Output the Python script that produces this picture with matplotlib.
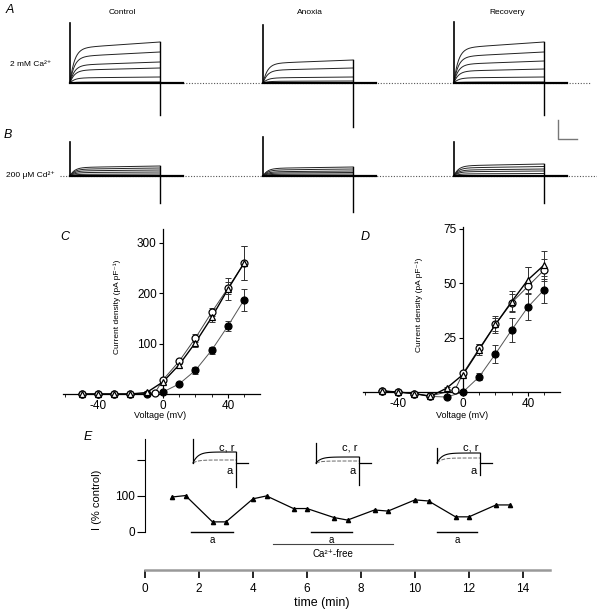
import numpy as np
import matplotlib
matplotlib.use("Agg")
import matplotlib.pyplot as plt
from matplotlib.ticker import MultipleLocator, FixedLocator

plt.rcParams["font.family"] = ["Liberation Sans", "DejaVu Sans"]

W, H = 600, 611

# ---- panel A / B current traces (nA, ms) ----
conditions = ["Control", "Anoxia", "Recovery"]
pulse_start = [0, 429, 853]
pulse_len = 200
tail_len = 51
A_amps = [[4.1, 3.1, 2.1, 1.5, 0.6, 0.1],
          [2.3, 1.5, 0.6, 0.2, 0.05, 0.0],
          [4.1, 3.1, 2.2, 1.4, 0.6, 0.1]]
A_on_spike = [6.0, 5.8, 6.1]
A_off_spike = [-3.2, -4.4, -3.2]
B_amps = [[1.0, 0.8, 0.6, 0.4, 0.2, 0.05],
          [0.9, 0.7, 0.5, 0.35, 0.2, 0.05],
          [1.2, 0.95, 0.7, 0.5, 0.25, 0.05]]
B_on_spike = [3.4, 3.9, 3.4]
B_off_spike = [-2.7, -3.6, -2.7]

# ---- panel C / D I-V data ----
voltage = [-50, -40, -30, -20, -10, 0, 10, 20, 30, 40, 50]
voltage_open = [-50, -40, -30, -20, -5, 0, 10, 20, 30, 40, 50]
C_tri = [0, 0, 0, 0, 3, 24, 58, 102, 152, 208, 260]
C_open = [0, 0, 0, 0, 2, 28, 65, 111, 162, 210, 260]
C_fill = [0, 0, 0, 0, 0, 4, 20, 47, 87, 135, 187]
C_tri_err = [0, 0, 0, 0, 2, 4, 6, 9, 10, 22, 34]
C_open_err = [0, 0, 0, 0, 2, 4, 5, 7, 8, 12, 34]
C_fill_err = [0, 0, 0, 0, 0, 1, 4, 7, 7, 10, 22]
D_tri = [0.5, 0, -0.7, -2, 1.8, 8, 19.5, 31, 41.5, 51.5, 58.3]
D_open = [0.5, 0, -0.7, -1.8, 0.9, 8.5, 20, 31, 41, 48.5, 56]
D_fill = [0.5, 0, -0.7, -2, -2.3, 0, 7, 17.5, 28.5, 39, 47]
D_tri_err = [0, 0, 0, 0, 0.5, 1, 2.5, 4, 5, 6, 6.5]
D_open_err = [0, 0, 0, 0, 0.5, 1, 2, 3, 4, 9, 5]
D_fill_err = [0, 0, 0, 0, 0, 0, 1.5, 4, 5.5, 6, 6]

# ---- panel E time course ----
time_min = [1.0, 1.5, 2.5, 3.0, 4.0, 4.5, 5.5, 6.0, 7.0, 7.5, 8.5, 9.0,
            10.0, 10.5, 11.5, 12.0, 13.0, 13.5]
I_pct = [97, 101, 28, 28, 92, 100, 65, 65, 40, 33, 61, 58,
         89, 86, 42, 42, 75, 75]
anoxia_bars = [(1.7, 3.27), (6.15, 7.67), (10.8, 12.3)]
ca_free_bar = (4.75, 9.2)
inset_start_px = [193, 316, 437]
inset_spike = [24, 20, 15]
inset_cr = [11, 6, 10]
inset_a = [3, 2, 5]
inset_tail = [-24, -22, -12]

fig = plt.figure(figsize=(W / 100, H / 100), dpi=100)


def box(x0, y0, x1, y1):
    return fig.add_axes([x0 / W, 1 - y1 / H, (x1 - x0) / W, (y1 - y0) / H])


def ftext(x, y, s, **kw):
    fig.text(x / W, 1 - y / H, s, **kw)


def draw_traces(ax, amps, on_spike, off_spike, dot_from, dot_to):
    ax.plot([dot_from, dot_to], [0, 0], ls=(0, (1, 1.5)), color="#555555", lw=0.8)
    t = np.linspace(0, pulse_len, 300)
    for k, t0 in enumerate(pulse_start):
        for a in amps[k]:
            y = a * (1 - np.exp(-t / 10.0)) * (0.85 + 0.15 * t / pulse_len)
            ax.plot(t0 + t, y, color="#222222", lw=0.7)
        ax.plot([t0, t0 + pulse_len + tail_len], [0, 0], color="black", lw=1.6)
        ax.plot([t0, t0], [0, on_spike[k]], color="black", lw=1.2)
        ax.plot([t0 + pulse_len, t0 + pulse_len], [amps[k][0], off_spike[k]],
                color="black", lw=1.0)
    ax.set_xlim(-33.3, 1171)
    ax.axis("off")


axA = box(55, 15, 597, 145)
draw_traces(axA, A_amps, A_on_spike, A_off_spike, 250, 1155)
axA.set_ylim(-6.2, 6.8)
# scale bar
axA.plot([1084, 1084, 1126], [-3.7, -5.6, -5.6], color="#777777", lw=1.0)

axB = box(55, 130, 597, 215)
draw_traces(axB, B_amps, B_on_spike, B_off_spike, -22, 1171)
axB.set_ylim(-3.9, 4.6)

ftext(10, 10, "A", fontsize=9, style="italic", ha="center", va="center")
ftext(8, 135, "B", fontsize=9, style="italic", ha="center", va="center")
for name, xp in zip(conditions, [122, 310, 507]):
    ftext(xp, 13, name, fontsize=6, ha="center", va="center")
ftext(31, 64, "2 mM Ca²⁺", fontsize=6, ha="center", va="center")
ftext(30, 175, "200 μM Cd²⁺", fontsize=6, ha="center", va="center")


def iv_axes(ax, ymax, ymin, yticks, series):
    for xs, ys, err, mk, fc, lc, lw in series:
        ax.errorbar(xs, ys, yerr=err, fmt="none", ecolor="#333333", elinewidth=0.7,
                    capsize=2.5, capthick=0.7, clip_on=False)
        ax.plot(xs, ys, color=lc, lw=lw, clip_on=False, zorder=2)
        ax.plot(xs, ys, ls="none", marker=mk, ms=5, mfc=fc, mec="black", mew=0.9,
                clip_on=False, zorder=3)
    ax.set_xlim(-61.5, 59.7)
    ax.set_ylim(ymin, ymax)
    ax.spines["left"].set_position(("data", 0))
    ax.spines["bottom"].set_position(("data", 0))
    ax.spines["left"].set_bounds(0, ymax)
    ax.spines["top"].set_visible(False)
    ax.spines["right"].set_visible(False)
    for s in ("left", "bottom"):
        ax.spines[s].set_linewidth(0.9)
    ax.patch.set_visible(False)
    ax.set_xticks([-40, 0, 40])
    ax.set_xticklabels(["-40", "0", "40"])
    ax.xaxis.set_minor_locator(MultipleLocator(10))
    ax.set_yticks(yticks)
    ax.tick_params(labelsize=8.5, length=3, width=0.8, pad=1.5)
    ax.tick_params(which="minor", length=2, width=0.6)


axC = box(63, 229, 260, 399)
iv_axes(axC, 327, -9.9, [100, 200, 300], [
    (voltage, C_fill, C_fill_err, "o", "black", "#555555", 0.7),
    (voltage_open, C_open, C_open_err, "o", "white", "#444444", 0.7),
    (voltage, C_tri, C_tri_err, "^", "white", "black", 1.0),
])
axD = box(363, 227, 560, 399)
iv_axes(axD, 75.7, -3.2, [25, 50, 75], [
    (voltage, D_fill, D_fill_err, "o", "black", "#555555", 0.7),
    (voltage_open, D_open, D_open_err, "o", "white", "#444444", 0.7),
    (voltage, D_tri, D_tri_err, "^", "white", "black", 1.0),
])

ftext(65, 237, "C", fontsize=9, style="italic", ha="center", va="center")
ftext(365, 237, "D", fontsize=9, style="italic", ha="center", va="center")
ftext(117, 307, "Current density (pA pF⁻¹)", fontsize=6, rotation=90,
      ha="center", va="center")
ftext(419, 305, "Current density (pA pF⁻¹)", fontsize=6, rotation=90,
      ha="center", va="center")
ftext(160, 416, "Voltage (mV)", fontsize=6.5, ha="center", va="center")
ftext(462, 415, "Voltage (mV)", fontsize=6.5, ha="center", va="center")

# ---- panel E ----
axE = box(145, 439, 550, 560)
axE.plot(time_min, I_pct, color="black", lw=0.9, marker="^", ms=3, mfc="black")
for a0, a1 in anoxia_bars:
    axE.plot([a0, a1], [0, 0], color="black", lw=1.0)
    axE.text((a0 + a1) / 2, -22, "a", fontsize=7, ha="center", va="center")
axE.plot(ca_free_bar, [-33, -33], color="#444444", lw=0.8)
axE.text(sum(ca_free_bar) / 2, -61, "Ca²⁺-free", fontsize=7, ha="center", va="center")
axE.set_xlim(0, 15)
axE.set_ylim(-77.8, 258)
axE.spines["left"].set_bounds(0, 258)
for s in ("top", "right", "bottom"):
    axE.spines[s].set_visible(False)
axE.patch.set_visible(False)
axE.set_xticks([])
axE.yaxis.set_major_locator(FixedLocator([0, 100, 200]))
axE.set_yticklabels(["0", "100", ""])
axE.tick_params(axis="y", labelsize=8.5, length=6, width=0.8, pad=1)
axE.set_ylabel("I (% control)", fontsize=8, labelpad=10)

axT = box(145, 550, 550, 570)
for s in ("top", "right", "left"):
    axT.spines[s].set_visible(False)
axT.spines["bottom"].set_color("#999999")
axT.spines["bottom"].set_linewidth(1.8)
axT.patch.set_visible(False)
axT.set_xlim(0, 15)
axT.set_yticks([])
axT.set_xticks(range(0, 15, 2))
axT.tick_params(axis="x", labelsize=8.5, length=6, width=1.2, pad=3)
ftext(322, 603, "time (min)", fontsize=9, ha="center", va="center")
ftext(88, 437, "E", fontsize=9, style="italic", ha="center", va="center")

ti = np.linspace(0, 43, 120)
for k, s0 in enumerate(inset_start_px):
    ax = box(s0 - 5, 433, s0 + 60, 493)
    ax.plot(ti, inset_cr[k] * (1 - np.exp(-ti / 5.0)), color="black", lw=0.8)
    ax.plot(ti, inset_a[k] * (1 - np.exp(-ti / 5.0)), color="#666666", lw=0.7,
            ls=(0, (4, 1.5)))
    ax.plot([0, 0], [0, inset_spike[k]], color="black", lw=0.9)
    ax.plot([43, 43], [inset_cr[k], inset_tail[k]], color="black", lw=0.9)
    ax.plot([43, 55], [0, 0], color="black", lw=0.9)
    ax.text(34, 15, "c, r", fontsize=8, ha="center", va="center")
    ax.text(37, -8, "a", fontsize=8, ha="center", va="center")
    ax.set_xlim(-5, 60)
    ax.set_ylim(-30, 30)
    ax.axis("off")

fig.savefig("out.png", dpi=100)
